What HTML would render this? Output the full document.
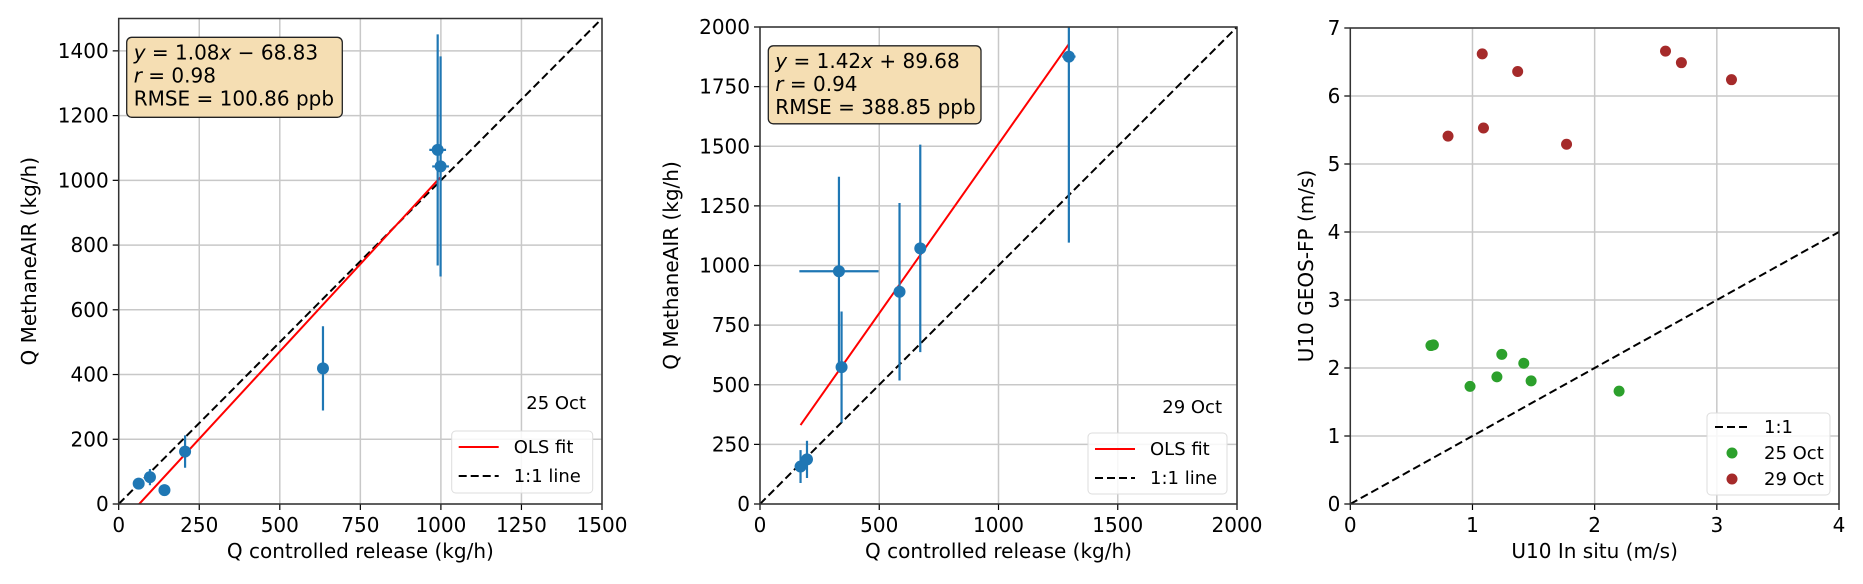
<!DOCTYPE html>
<html><head><meta charset="utf-8"><style>
html,body{margin:0;padding:0;background:#fff;}
svg{display:block;font-family:"DejaVu Sans","Liberation Sans",sans-serif;}
</style></head><body>
<svg id="fig" width="1863" height="584" viewBox="0 0 1863 584" xmlns="http://www.w3.org/2000/svg"></svg>
<script>
// Panel 1 (25 Oct)
const p1Release = [62, 97, 142, 206, 634, 990, 999];
const p1Methane = [63, 83, 43, 162, 419, 1094, 1043];
const p1YErr = [15, 25, 0, 50, 130, 357, 340];
const p1XErr = [0, 0, 0, 0, 0, 26, 26];
const p1Fit = [1.08, -68.83];
const p1XTicks = [0, 250, 500, 750, 1000, 1250, 1500];
const p1YTicks = [0, 200, 400, 600, 800, 1000, 1200, 1400];
// Panel 2 (29 Oct)
const p2Release = [170, 197, 331, 342, 585, 672, 1295];
const p2Methane = [157, 187, 976, 574, 890, 1072, 1876];
const p2YErr = [69, 78, 396, 233, 372, 435, 780];
const p2XErr = [0, 0, 166, 0, 0, 0, 28];
const p2Fit = [1.42, 89.68];
const p2XTicks = [0, 500, 1000, 1500, 2000];
const p2YTicks = [0, 250, 500, 750, 1000, 1250, 1500, 1750, 2000];
// Panel 3 wind
const octA_x = [0.66, 0.68, 0.98, 1.20, 1.24, 1.42, 1.48, 2.20];
const octA_y = [2.33, 2.34, 1.73, 1.87, 2.20, 2.07, 1.81, 1.66];
const octB_x = [0.80, 1.08, 1.09, 1.37, 1.77, 2.58, 2.71, 3.12];
const octB_y = [5.41, 6.62, 5.53, 6.36, 5.29, 6.66, 6.49, 6.24];
const p3XTicks = [0, 1, 2, 3, 4];
const p3YTicks = [0, 1, 2, 3, 4, 5, 6, 7];

const NS = 'http://www.w3.org/2000/svg';
const svg = document.getElementById('fig');
function mk(tag, attrs, parent, text){
  const e = document.createElementNS(NS, tag);
  for (const k in attrs) e.setAttribute(k, attrs[k]);
  if (text !== undefined) e.textContent = text;
  (parent || svg).appendChild(e);
  return e;
}
const BLUE = '#1f77b4';

function axes(cfg){
  const g = mk('g', {});
  
  
  const sx = v => cfg.l + (v - cfg.xmin) / (cfg.xmax - cfg.xmin) * (cfg.r - cfg.l);
  const sy = v => cfg.b - (v - cfg.ymin) / (cfg.ymax - cfg.ymin) * (cfg.b - cfg.t);
  const clip = 'clip-' + cfg.name;
  const cp = mk('clipPath', {id: clip}, g);
  mk('rect', {x: cfg.l, y: cfg.t, width: cfg.r - cfg.l, height: cfg.b - cfg.t}, cp);
  const grid = mk('g', {}, g);
  
  
  cfg.xt.forEach(v => mk('line', {x1: sx(v), x2: sx(v), y1: cfg.t, y2: cfg.b, stroke: '#c8c8c8', 'stroke-width': 1.5}, grid));
  cfg.yt.forEach(v => mk('line', {x1: cfg.l, x2: cfg.r, y1: sy(v), y2: sy(v), stroke: '#c8c8c8', 'stroke-width': 1.5}, grid));
  const plot = mk('g', {'clip-path': 'url(#' + clip + ')'}, g);
  const xt = mk('g', {}, g);
  
  
  cfg.xt.forEach(v => {
    mk('line', {x1: sx(v), x2: sx(v), y1: cfg.b, y2: cfg.b + 6, stroke: '#000', 'stroke-width': 1.2}, xt);
    mk('text', {x: sx(v), y: cfg.b + 28, 'font-size': 20, 'text-anchor': 'middle'}, xt, String(v));
  });
  const yt = mk('g', {}, g);
  
  
  cfg.yt.forEach(v => {
    mk('line', {x1: cfg.l - 6, x2: cfg.l, y1: sy(v), y2: sy(v), stroke: '#000', 'stroke-width': 1.2}, yt);
    mk('text', {x: cfg.l - 10, y: sy(v) + 7, 'font-size': 20, 'text-anchor': 'end'}, yt, String(v));
  });
  const xl = mk('text', {x: (cfg.l + cfg.r) / 2, y: 558, 'font-size': 20, 'text-anchor': 'middle'}, g, cfg.xlabel);
  
  
  const yl = mk('text', {x: 0, y: 0, 'font-size': 20, 'text-anchor': 'middle', transform: 'translate(' + (cfg.ylx) + ',' + ((cfg.t + cfg.b) / 2) + ') rotate(-90)'}, g, cfg.ylabel);
  
  
  return {g, plot, sx, sy, cfg};
}
function frame(ax){
  const c = ax.cfg;
  const f = mk('rect', {x: c.l, y: c.t, width: c.r - c.l, height: c.b - c.t, fill: 'none', stroke: '#333', 'stroke-width': 1.5}, ax.g);
  
  
}
function oneToOne(ax, x0, x1, name){
  const l = mk('line', {x1: ax.sx(x0), y1: ax.sy(x0), x2: ax.sx(x1), y2: ax.sy(x1), stroke: '#000', 'stroke-width': 2, 'stroke-dasharray': '8,4'}, ax.plot);
  
  
}
function fitLine(ax, xs, fit){
  const x0 = Math.min(...xs), x1 = Math.max(...xs);
  const l = mk('line', {x1: ax.sx(x0), y1: ax.sy(fit[0] * x0 + fit[1]), x2: ax.sx(x1), y2: ax.sy(fit[0] * x1 + fit[1]), stroke: '#ff0000', 'stroke-width': 2}, ax.plot);
  
  
}
function errPoints(ax, xs, ys, ye, xe){
  xs.forEach((x, i) => {
    const g = mk('g', {}, ax.plot);
    
    
    if (ye[i] > 0) mk('line', {x1: ax.sx(x), x2: ax.sx(x), y1: ax.sy(ys[i] - ye[i]), y2: ax.sy(ys[i] + ye[i]), stroke: BLUE, 'stroke-width': 2.2}, g);
    if (xe[i] > 0) mk('line', {x1: ax.sx(x - xe[i]), x2: ax.sx(x + xe[i]), y1: ax.sy(ys[i]), y2: ax.sy(ys[i]), stroke: BLUE, 'stroke-width': 2.2}, g);
    mk('circle', {cx: ax.sx(x), cy: ax.sy(ys[i]), r: 6, fill: BLUE}, g);
  });
}
function infoBox(x, y, w, h, fit, r, rmse){
  const g = mk('g', {});
  
  
  mk('rect', {x, y, width: w, height: h, rx: 5, fill: '#f5deb3', stroke: '#222', 'stroke-width': 1.3}, g);
  const sign = fit[1] < 0 ? ' \u2212 ' : ' + ';
  const t1 = mk('text', {x: x + 7, y: y + 22, 'font-size': 20}, g);
  mk('tspan', {'font-style': 'italic'}, t1, 'y');
  mk('tspan', {}, t1, ' = ' + fit[0].toFixed(2));
  mk('tspan', {'font-style': 'italic'}, t1, 'x');
  mk('tspan', {}, t1, sign + Math.abs(fit[1]).toFixed(2));
  const t2 = mk('text', {x: x + 7, y: y + 45, 'font-size': 20}, g);
  mk('tspan', {'font-style': 'italic'}, t2, 'r');
  mk('tspan', {}, t2, ' = ' + r);
  mk('text', {x: x + 7, y: y + 68, 'font-size': 20}, g, 'RMSE = ' + rmse + ' ppb');
}
function legendFit(x, y, w, h){
  const g = mk('g', {});
  
  
  mk('rect', {x, y, width: w, height: h, rx: 4, fill: 'rgba(255,255,255,0.85)', stroke: '#ddd', 'stroke-width': 1}, g);
  mk('line', {x1: x + 7, x2: x + 47, y1: y + 16, y2: y + 16, stroke: '#ff0000', 'stroke-width': 2}, g);
  mk('text', {x: x + 62, y: y + 22, 'font-size': 18}, g, 'OLS fit');
  mk('line', {x1: x + 7, x2: x + 47, y1: y + 45, y2: y + 45, stroke: '#000', 'stroke-width': 2, 'stroke-dasharray': '8,4'}, g);
  mk('text', {x: x + 62, y: y + 51, 'font-size': 18}, g, '1:1 line');
}

const a1 = axes({name: 'panel-25-oct', l: 118.7, r: 602, t: 18.5, b: 504, xmin: 0, xmax: 1500, ymin: 0, ymax: 1500,
  xt: p1XTicks, yt: p1YTicks, xlabel: 'Q controlled release (kg/h)', ylabel: 'Q MethaneAIR (kg/h)', ylx: 36});
oneToOne(a1, 0, 1500, 'one-to-one-line');
fitLine(a1, p1Release, p1Fit);
errPoints(a1, p1Release, p1Methane, p1YErr, p1XErr);
frame(a1);
infoBox(126.7, 37.3, 215.6, 80, p1Fit, '0.98', '100.86');
const d1 = mk('text', {x: 586, y: 409, 'font-size': 18, 'text-anchor': 'end'}, svg, '25 Oct');


legendFit(451.7, 431, 141, 62);

const a2 = axes({name: 'panel-29-oct', l: 760, r: 1237, t: 27, b: 504, xmin: 0, xmax: 2000, ymin: 0, ymax: 2000,
  xt: p2XTicks, yt: p2YTicks, xlabel: 'Q controlled release (kg/h)', ylabel: 'Q MethaneAIR (kg/h)', ylx: 678});
oneToOne(a2, 0, 2000, 'one-to-one-line');
fitLine(a2, p2Release, p2Fit);
errPoints(a2, p2Release, p2Methane, p2YErr, p2XErr);
frame(a2);
infoBox(768.3, 45.8, 212.7, 78, p2Fit, '0.94', '388.85');
const d2 = mk('text', {x: 1222, y: 413, 'font-size': 18, 'text-anchor': 'end'}, svg, '29 Oct');


legendFit(1088, 433, 139, 61);

const a3 = axes({name: 'panel-wind', l: 1350.3, r: 1839, t: 28, b: 504, xmin: 0, xmax: 4, ymin: 0, ymax: 7,
  xt: p3XTicks, yt: p3YTicks, xlabel: 'U10 In situ (m/s)', ylabel: 'U10 GEOS-FP (m/s)', ylx: 1313});
oneToOne(a3, 0, 4, 'one-to-one-line');
octA_x.forEach((x, i) => {
  const c = mk('circle', {cx: a3.sx(x), cy: a3.sy(octA_y[i]), r: 5.5, fill: '#2ca02c'}, a3.plot);
  
  
});
octB_x.forEach((x, i) => {
  const c = mk('circle', {cx: a3.sx(x), cy: a3.sy(octB_y[i]), r: 5.5, fill: '#a52a2a'}, a3.plot);
  
  
});
frame(a3);
const lg3 = mk('g', {});


mk('rect', {x: 1707, y: 413, width: 123, height: 82, rx: 4, fill: 'rgba(255,255,255,0.85)', stroke: '#ddd', 'stroke-width': 1}, lg3);
mk('line', {x1: 1715, x2: 1750, y1: 427, y2: 427, stroke: '#000', 'stroke-width': 2, 'stroke-dasharray': '8,4'}, lg3);
mk('text', {x: 1764, y: 433, 'font-size': 18}, lg3, '1:1');
mk('circle', {cx: 1732, cy: 453, r: 5.5, fill: '#2ca02c'}, lg3);
mk('text', {x: 1764, y: 459, 'font-size': 18}, lg3, '25 Oct');
mk('circle', {cx: 1732, cy: 479, r: 5.5, fill: '#a52a2a'}, lg3);
mk('text', {x: 1764, y: 485, 'font-size': 18}, lg3, '29 Oct');
</script>
</body></html>
